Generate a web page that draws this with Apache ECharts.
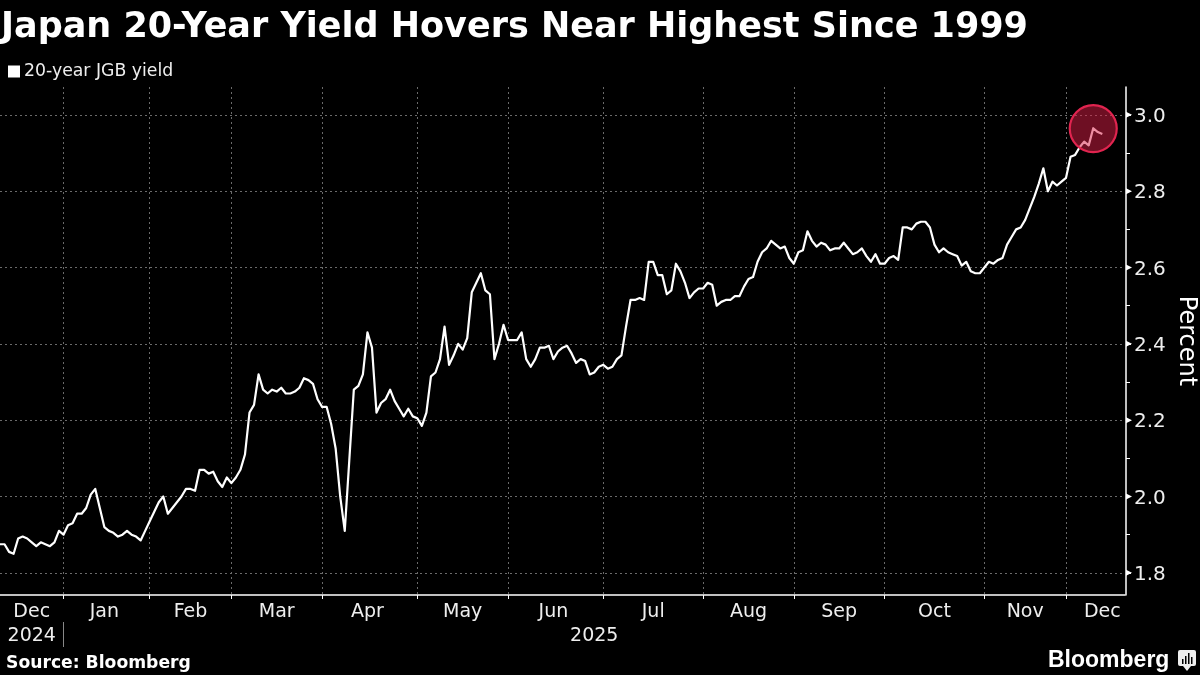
<!DOCTYPE html>
<html>
<head>
<meta charset="utf-8">
<title>Japan 20-Year Yield</title>
<script src="https://cdn.jsdelivr.net/npm/echarts@6/dist/echarts.min.js"></script>
<style>
html,body{margin:0;padding:0;background:#000;}
#main{width:1200px;height:675px;}
</style>
</head>
<body>
<div id="main"></div>
<script>
// trading-day yields, one list per month
var dec24 = [1.875,1.875,1.855,1.85,1.89,1.895,1.89,1.88,1.87,1.88,1.875,1.87,1.88,1.91];
var jan25 = [1.90,1.925,1.93,1.955,1.955,1.97,2.005,2.02,1.97,1.92,1.91,1.905,1.895,1.90,1.91,1.90,1.895,1.885,1.91];
var feb25 = [1.935,1.96,1.985,2.0,1.955,1.97,1.985,2.0,2.02,2.02,2.015,2.07,2.07,2.06,2.065,2.04,2.025,2.05];
var mar25 = [2.035,2.05,2.07,2.11,2.22,2.24,2.32,2.28,2.27,2.28,2.275,2.285,2.27,2.27,2.275,2.285,2.31,2.305,2.295,2.255];
var apr25 = [2.235,2.235,2.19,2.125,2.0,1.91,2.095,2.28,2.29,2.32,2.43,2.39,2.22,2.245,2.255,2.28,2.25,2.23,2.21,2.23,2.21];
var may25 = [2.205,2.185,2.22,2.315,2.325,2.36,2.445,2.345,2.37,2.40,2.385,2.415,2.535,2.56,2.585,2.54,2.53,2.36,2.40,2.45];
var jun25 = [2.41,2.41,2.41,2.43,2.36,2.34,2.36,2.39,2.39,2.395,2.36,2.38,2.39,2.395,2.375,2.35,2.36,2.355,2.32,2.325,2.34];
var jul25 = [2.345,2.335,2.34,2.36,2.37,2.445,2.515,2.515,2.52,2.515,2.615,2.615,2.58,2.58,2.53,2.54,2.61,2.59,2.56,2.52,2.535,2.545];
var aug25 = [2.545,2.56,2.555,2.50,2.51,2.515,2.515,2.525,2.525,2.55,2.57,2.575,2.615,2.64,2.65,2.67,2.66,2.65,2.655,2.625];
var sep25 = [2.61,2.64,2.645,2.695,2.67,2.655,2.665,2.66,2.645,2.65,2.65,2.665,2.65,2.635,2.64,2.65,2.63,2.615,2.635,2.61];
var oct25 = [2.61,2.625,2.63,2.62,2.705,2.705,2.70,2.715,2.72,2.72,2.705,2.66,2.64,2.65,2.64,2.635,2.63,2.605,2.615,2.59,2.585,2.585];
var nov25 = [2.60,2.615,2.61,2.62,2.625,2.66,2.68,2.70,2.705,2.725,2.755,2.785,2.82,2.86,2.80,2.825,2.815,2.825];
var dec25 = [2.835,2.89,2.895,2.915,2.93,2.92,2.965,2.955,2.95];

var monthSeries = [dec24,jan25,feb25,mar25,apr25,may25,jun25,jul25,aug25,sep25,oct25,nov25,dec25];
var monthNames = ['Dec','Jan','Feb','Mar','Apr','May','Jun','Jul','Aug','Sep','Oct','Nov','Dec'];
var monthLabelAt = [7,23,42,61,81,102,122,144,165,185,206,226,243];
var yearNames = ['2024','2025'];
var yearLabelAt = [7,131];
var majorTicks = [1.8,2.0,2.2,2.4,2.6,2.8,3.0];
var minorTicks = [1.9,2.1,2.3,2.5,2.7,2.9];
var highlight = [241,2.964];

var slotCount = 249; // axis runs on a few sessions past the last print
var yields = [], categories = [], monthStarts = {}, monthLabels = {}, yearLabels = {};
monthSeries.forEach(function(list,m){
	if(m>0){ monthStarts[yields.length]=true; }
	list.forEach(function(v,d){
		categories.push(monthNames[m]+'-'+m+'-'+d);
		yields.push(v);
	});
	monthLabels[monthLabelAt[m]]=monthNames[m];
});
while(categories.length<slotCount){ categories.push('pad-'+categories.length); }
yearNames.forEach(function(y,i){ yearLabels[yearLabelAt[i]]=y; });

var fontName = '"DejaVu Sans"';
var gridDash = {color:'#6a6a6a',width:1,type:[2,3]};
var yMin = 1.742, yMax = 3.073;

var myChart = echarts.init(document.getElementById('main'));
var option = {
	backgroundColor:'#000',
	animation:false,
	textStyle:{fontFamily:fontName},
	title:{
		text:'Japan 20-Year Yield Hovers Near Highest Since 1999',
		left:1,top:10,padding:0,
		textStyle:{color:'#fff',fontSize:35,fontWeight:'bold',fontFamily:fontName}
	},
	legend:{
		data:['20-year JGB yield'],
		left:8,top:63,padding:0,
		icon:'rect',itemWidth:12,itemHeight:12,itemGap:5,
		textStyle:{color:'#eee',fontSize:17.3,fontFamily:fontName,padding:[0,0,0,-1]}
	},
	grid:{left:0,top:87,width:1125,height:508,containLabel:false,outerBoundsMode:'none'},
	xAxis:[
		{
			type:'category',data:categories,boundaryGap:false,
			axisLine:{lineStyle:{color:'#fff',width:1.5}},
			axisTick:{length:4,lineStyle:{color:'#fff'},interval:function(i){return !!monthStarts[i];}},
			splitLine:{show:true,lineStyle:gridDash,interval:function(i){return !!monthStarts[i];}},
			axisLabel:{
				color:'#eee',fontSize:19,margin:8,hideOverlap:false,
				interval:function(i){return monthLabels[i]!==undefined;},
				formatter:function(v,i){return monthLabels[i];}
			}
		},
		{
			type:'category',data:categories,boundaryGap:false,position:'bottom',offset:27,
			axisLine:{show:false},
			axisTick:{length:25,lineStyle:{color:'#888'},interval:function(i){return i==dec24.length;}},
			splitLine:{show:false},
			axisLabel:{
				color:'#eee',fontSize:19,margin:5,hideOverlap:false,
				interval:function(i){return yearLabels[i]!==undefined;},
				formatter:function(v,i){return yearLabels[i];}
			}
		}
	],
	yAxis:[
		{
			type:'value',position:'right',offset:1,min:yMin,max:yMax,
			name:'Percent',nameLocation:'middle',nameRotate:-90,nameGap:48,nameMoveOverlap:false,
			nameTextStyle:{color:'#fff',fontSize:24,fontFamily:fontName},
			axisLine:{show:true,lineStyle:{color:'#fff',width:1.5}},
			axisTick:{show:true,length:5,lineStyle:{color:'#fff',width:1},customValues:majorTicks},
			splitLine:{show:true,lineStyle:gridDash},
			axisLabel:{
				color:'#eee',fontSize:20,margin:8,customValues:majorTicks,
				rich:{tick:{fontSize:20,color:'#eee',padding:[4,0,0,0]}},
				formatter:function(v){return '{tick|'+v.toFixed(1)+'}';}
			}
		},
		{
			type:'value',position:'right',offset:1,min:yMin,max:yMax,
			axisLine:{show:false},
			axisTick:{show:true,length:4,lineStyle:{color:'#fff',width:1},customValues:minorTicks},
			splitLine:{show:false},
			axisLabel:{show:false}
		}
	],
	series:[
		{
			name:'20-year JGB yield',type:'line',data:yields,
			symbol:'none',smooth:false,
			itemStyle:{color:'#fff'},
			lineStyle:{color:'#fff',width:2.2,join:'round'},
			z:2
		},
		{
			name:'highlight',type:'scatter',data:[highlight],
			symbol:'circle',symbolSize:47,silent:true,
			itemStyle:{color:'rgba(220,30,70,0.5)',borderColor:'#e0244f',borderWidth:2.2,opacity:1},
			z:5
		},
		{
			name:'tick marks',type:'scatter',clip:false,silent:true,
			data:majorTicks.map(function(v){return [slotCount-1,v];}),
			symbol:'triangle',symbolRotate:-90,symbolSize:6,symbolOffset:[4,0],
			itemStyle:{color:'#fff',opacity:1},
			z:6
		}
	],
	graphic:[
		{type:'text',left:6,top:655,style:{text:'Source: Bloomberg',fill:'#fff',font:'bold 17.2px "DejaVu Sans"'}},
		{type:'text',left:1048,top:649,style:{text:'Bloomberg',fill:'#fff',font:'bold 23px "Liberation Sans"'}},
		{type:'group',left:1178,top:650,children:[
			{type:'rect',shape:{x:0,y:0,width:18,height:16,r:2},style:{fill:'#eee'}},
			{type:'polygon',shape:{points:[[5,16],[13,16],[9,21]]},style:{fill:'#eee'}},
			{type:'rect',shape:{x:4,y:9,width:1.5,height:5},style:{fill:'#000'}},
			{type:'rect',shape:{x:7,y:6,width:1.5,height:8},style:{fill:'#000'}},
			{type:'rect',shape:{x:10,y:3,width:1.5,height:11},style:{fill:'#000'}},
			{type:'rect',shape:{x:13,y:7,width:1.5,height:7},style:{fill:'#000'}}
		]}
	]
};
myChart.setOption(option);
</script>
</body>
</html>
